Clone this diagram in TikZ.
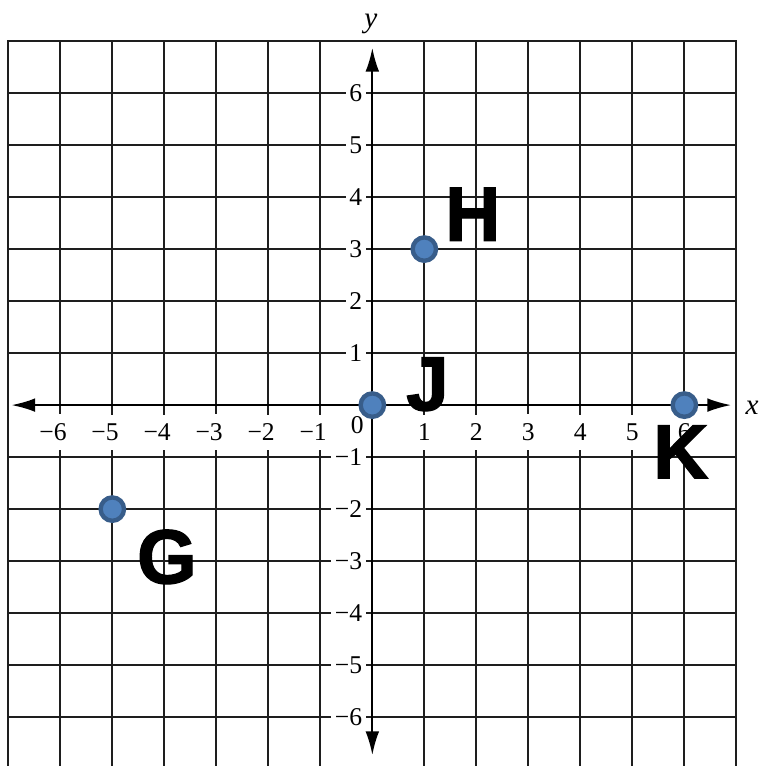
\documentclass[tikz,border=0pt]{standalone}
\usepackage{fontspec}
\setmainfont{Liberation Serif}
\newfontfamily\ptfont[BoldFeatures={FakeBold=1.6}]{Liberation Sans}
\usepackage{tikz}
\usetikzlibrary{arrows.meta}
\definecolor{ptfill}{RGB}{79,129,189}
\definecolor{ptdraw}{RGB}{56,93,138}
\definecolor{gridgray}{RGB}{30,30,30}
\tikzset{
  gridline/.style={line width=1.1pt, color=gridgray, line cap=rect},
  axisline/.style={line width=1.1pt, color=black,
    {Latex[length=13pt, width=7.5pt]}-{Latex[length=13pt, width=7.5pt]}},
  xlab/.style={fill=white, inner xsep=2.5pt, inner ysep=5pt,
    font=\fontsize{14}{16}\selectfont},
  ylab/.style={anchor=east, fill=white, inner xsep=2pt, inner ysep=3pt,
    font=\fontsize{14}{16}\selectfont},
  axisname/.style={inner sep=0pt, font=\itshape\fontsize{16}{18}\selectfont},
  dotpt/.style={circle, fill=ptfill, draw=ptdraw, line width=2.4pt,
    minimum size=0.45cm, inner sep=0pt},
  ptname/.style={inner sep=0pt, font=\ptfont\bfseries\fontsize{42}{42}\selectfont}
}

\begin{document}
\begin{tikzpicture}

  % ── Page frame ────────────────────────────────────────────────────────────
  \useasboundingbox (-7.16,-6.94) rectangle (7.45,7.79);

  % ── Grid: unit squares from -7 to 7, cut at the bottom edge ───────────────
  \begin{scope}
    \clip (-7.16,-6.94) rectangle (7.45,7.79);
    \foreach \k in {-7,...,-1,1,2,...,7} {
      \draw[gridline] (\k,-7) -- (\k,7);
      \draw[gridline] (-7,\k) -- (7,\k);
    }
  \end{scope}

  % ── Axes ──────────────────────────────────────────────────────────────────
  \coordinate (xl) at (-6.94,0);
  \coordinate (xr) at (6.9,0);
  \coordinate (yb) at (0,-6.73);
  \coordinate (yt) at (0,6.87);
  \draw[axisline] (xl) -- (xr);
  \draw[axisline] (yb) -- (yt);

  \node[axisname, anchor=base west] (xname) at (7.17,-0.19) {x};
  \node[axisname, anchor=base] (yname) at (-0.03,7.27) {y};

  % ── Tick labels ───────────────────────────────────────────────────────────
  \foreach \k in {1,...,6} {
    \node[xlab] (xp\k) at (\k,-0.52) {\k};
    \node[xlab] (xn\k) at (-\k,-0.52) {\llap{−}\k};
    \node[ylab] (yp\k) at (-0.12,\k) {\k};
    \node[ylab] (yn\k) at (-0.12,-\k) {−\k};
  }
  \node[inner sep=0pt, font=\fontsize{14}{16}\selectfont] (zero) at (-0.29,-0.38) {0};

  % ── Points ────────────────────────────────────────────────────────────────
  \node[dotpt] (G) at (-5,-2) {};
  \node[dotpt] (H) at (1,3) {};
  \node[dotpt] (J) at (0,0) {};
  \node[dotpt] (K) at (6,0) {};

  \node[ptname] (Gname) at (-3.95,-2.92) {G};
  \node[ptname] (Hname) at (1.93,3.67) {H};
  \node[ptname] (Jname) at (1.06,0.40) {J};
  \node[ptname] (Kname) at (5.93,-0.9) {K};

\end{tikzpicture}
\end{document}
